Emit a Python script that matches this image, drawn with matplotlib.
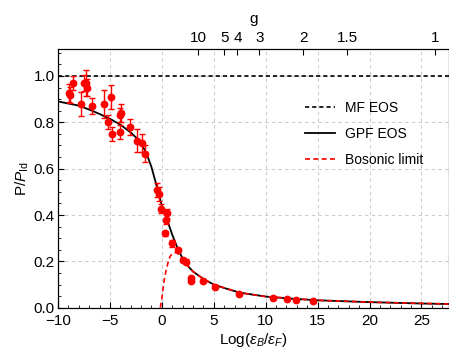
import numpy as np
import matplotlib.pyplot as plt
from matplotlib.ticker import MultipleLocator

plt.rcParams['font.family'] = ['Liberation Sans', 'DejaVu Sans']
plt.rcParams['mathtext.fontset'] = 'custom'
plt.rcParams['mathtext.rm'] = 'Liberation Sans'
plt.rcParams['mathtext.it'] = 'Liberation Sans:italic'

# experimental points: log(eB/eF), P/P_id, error
exp_x = [-8.94, -8.81, -8.56, -7.80, -7.53, -7.27, -7.17, -6.73, -5.54, -4.90,
         -5.19, -4.80, -4.07, -3.90, -4.00, -3.10, -2.37, -1.88, -1.64, -0.48,
         -0.30, -0.06, 0.26, 0.42, 0.52, 0.96, 1.54, 2.02, 2.35, 2.83,
         2.85, 4.00, 5.14, 7.43, 10.74, 12.03, 12.95, 14.60]
exp_y = [0.926, 0.918, 0.970, 0.879, 0.970, 0.970, 0.950, 0.872, 0.880, 0.909,
         0.800, 0.749, 0.830, 0.840, 0.760, 0.780, 0.720, 0.710, 0.665, 0.509,
         0.492, 0.428, 0.321, 0.380, 0.408, 0.278, 0.249, 0.206, 0.199, 0.127,
         0.117, 0.116, 0.091, 0.058, 0.044, 0.038, 0.033, 0.029]
exp_err = [0.04, 0.035, 0.03, 0.05, 0.035, 0.055, 0.035, 0.035, 0.06, 0.05,
           0.03, 0.03, 0.03, 0.04, 0.03, 0.035, 0.05, 0.04, 0.035, 0.03,
           0.03, 0.02, 0.01, 0.02, 0.02, 0.015, 0.01, 0.01, 0.01, 0.008,
           0.008, 0.006, 0.005, 0.004, 0.004, 0.003, 0.003, 0.003]

# GPF equation of state
gpf_x = [-10, -9, -8, -7, -6, -5, -4, -3, -2.5, -2, -1.5, -1, -0.5, 0, 0.5,
         1, 1.5, 2, 2.5, 3, 4, 5, 6, 7.5, 10, 12.5, 15, 20, 25, 27.6]
gpf_y = [0.89, 0.881, 0.872, 0.855, 0.836, 0.815, 0.79, 0.756, 0.735, 0.708,
         0.668, 0.607, 0.525, 0.44, 0.38, 0.315, 0.258, 0.212, 0.18, 0.156,
         0.124, 0.10, 0.085, 0.065, 0.048, 0.039, 0.032, 0.024, 0.018, 0.016]

# bosonic limit
bos_x = [-0.15, 0.0, 0.1, 0.25, 0.42, 0.6, 0.8, 1.06, 1.38, 1.7, 2.0, 2.5,
         3, 4, 5, 7.5, 10, 15, 20, 27.6]
bos_y = [0.0, 0.04, 0.077, 0.125, 0.163, 0.195, 0.222, 0.235, 0.238, 0.228,
         0.21, 0.18, 0.156, 0.124, 0.10, 0.065, 0.048, 0.032, 0.024, 0.016]

# top axis: coupling g
g_vals = [10, 5, 4, 3, 2, 1.5, 1]
g_labels = ['10', '5', '4', '3', '2', '1.5', '1']

fig = plt.figure(figsize=(4.49, 3.54), dpi=100)
ax = fig.add_axes([58 / 449, 46.3 / 354, 390.5 / 449, 258.4 / 354])

ax.grid(True, color='#cccccc', linestyle=(0, (3, 3)), linewidth=0.8, zorder=0)
ax.axhline(1.0, color='black', linewidth=1.2, dashes=(2.5, 1.8), label='MF EOS', zorder=2)
ax.plot(gpf_x, gpf_y, color='black', linewidth=1.3, label='GPF EOS', zorder=3)
ax.plot(bos_x, bos_y, color='red', linewidth=1.2, dashes=(3, 2), label='Bosonic limit', zorder=4)
ax.errorbar(exp_x, exp_y, yerr=exp_err, fmt='o', color='red', markersize=4.6,
            elinewidth=1.0, capsize=2, capthick=1.0, zorder=5)

ax.set_xlim(-10, 27.6)
ax.set_ylim(0, 1.115)
ax.xaxis.set_major_locator(MultipleLocator(5))
ax.xaxis.set_minor_locator(MultipleLocator(1))
ax.yaxis.set_minor_locator(MultipleLocator(0.05))
ax.set_yticks([0.0, 0.2, 0.4, 0.6, 0.8, 1.0])
ax.set_yticklabels(['0.0', '0.2', '0.4', '0.6', '0.8', '1.0'])
ax.tick_params(which='both', direction='in', top=False, right=False, labelsize=11)
ax.tick_params(axis='x', pad=4.5)
ax.tick_params(axis='y', pad=2.5)
ax.tick_params(which='major', length=4.5, width=0.8)
ax.tick_params(which='minor', length=2.5, width=0.6)
for s in ax.spines.values():
    s.set_linewidth(0.8)

ax.set_xlabel(r'Log($\epsilon_B/\epsilon_F$)', fontsize=11, labelpad=2)
ax.set_ylabel(r'P/$P_{\rm Id}$', fontsize=11, labelpad=2)

ax2 = ax.twiny()
ax2.set_xlim(ax.get_xlim())
ax2.set_xticks([25.36 / g + 0.94 for g in g_vals])
ax2.set_xticklabels(g_labels)
ax2.tick_params(direction='in', length=4.5, width=0.8, labelsize=11, pad=3)
ax2.set_xlabel('g', fontsize=11, labelpad=6)

ax.legend(loc='upper left', bbox_to_anchor=(0.632, 0.80), frameon=False, fontsize=10,
          borderpad=0, borderaxespad=0, handlelength=2.2, handletextpad=0.7,
          labelspacing=0.85)

fig.savefig('out.png', dpi=100)
